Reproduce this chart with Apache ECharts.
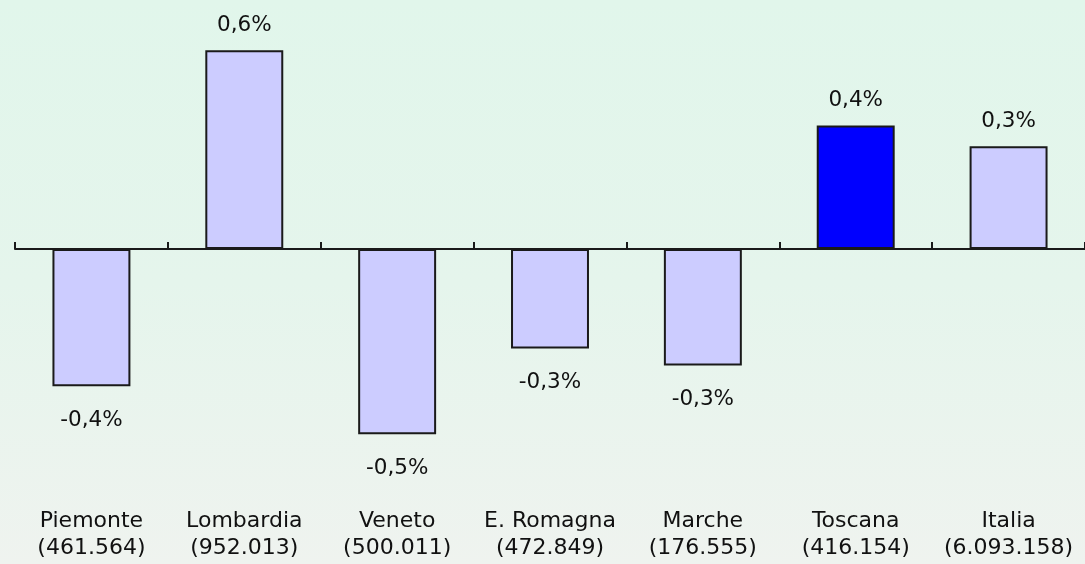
<!DOCTYPE html>
<html>
<head>
<meta charset="utf-8">
<script src="https://cdn.jsdelivr.net/npm/echarts@6/dist/echarts.min.js"></script>
<style>
html,body{margin:0;padding:0;}
#c{width:1085px;height:564px;background:linear-gradient(to bottom,#E1F6EB 0%,#E5F5EC 50%,#EFF3EF 100%);}
</style>
</head>
<body>
<div id="c"></div>
<script>
const regions = ['Piemonte','Lombardia','Veneto','E. Romagna','Marche','Toscana','Italia'];
const populations = ['461.564','952.013','500.011','472.849','176.555','416.154','6.093.158'];
const changes = [-0.40, 0.58, -0.54, -0.29, -0.34, 0.36, 0.30];
const highlight = 'Toscana';

const chart = echarts.init(document.getElementById('c'), null, {renderer:'canvas'});
const fmt = v => v.toFixed(1).replace('.', ',') + '%';
const data = changes.map((v, i) => ({
  value: v,
  itemStyle: { color: regions[i] === highlight ? '#0000FF' : '#CCCCFF' },
  label: v >= 0 ? { position: 'top', distance: 14 } : { position: 'bottom', distance: 23 }
}));
const font = 'DejaVu Sans';
chart.setOption({
  backgroundColor: 'transparent',
  animation: false,
  grid: { left: 15, right: 0, top: 9, bottom: 75 },
  xAxis: [
    {
      type: 'category', data: regions, position: 'bottom',
      axisLine: { onZero: true, lineStyle: { color: '#1a1a1a', width: 2 } },
      axisTick: { show: true, inside: true, length: 7, lineStyle: { color: '#1a1a1a', width: 2 } },
      axisLabel: { show: false }
    },
    {
      type: 'category', data: regions, position: 'bottom',
      axisLine: { show: false, onZero: false },
      axisTick: { show: false },
      axisLabel: {
        interval: 0, margin: 19, color: '#111', fontFamily: font, fontSize: 22, lineHeight: 27,
        formatter: (v, i) => v + '\n(' + populations[i] + ')'
      }
    }
  ],
  yAxis: { type: 'value', min: -0.70, max: 0.70, show: false, splitLine: { show: false } },
  series: [{
    type: 'bar', xAxisIndex: 0, data: data, barWidth: '51%',
    itemStyle: { borderColor: '#1a1a1a', borderWidth: 2 },
    label: { show: true, color: '#111', fontFamily: font, fontSize: 21.5, formatter: p => fmt(p.value) }
  }]
});
</script>
</body>
</html>
